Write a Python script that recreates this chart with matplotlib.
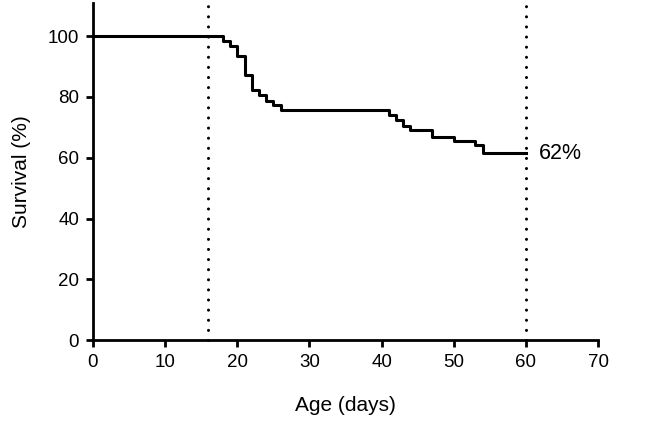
import matplotlib.pyplot as plt

plt.rcParams['font.family'] = ['Liberation Sans', 'DejaVu Sans']

# Kaplan-Meier style steps
days = [0, 18, 19, 20, 21, 22, 23, 24, 25, 26, 41, 42, 43, 44, 47, 50, 53, 54, 60]
survival = [100, 98.4, 96.8, 93.6, 87.3, 82.3, 80.7, 78.5, 77.2, 75.8,
            74.2, 72.4, 70.6, 69.2, 66.9, 65.5, 64.2, 61.5, 61.5]
marks = [16, 60]
final_label = "62%"

fig = plt.figure(figsize=(6.69, 4.47), dpi=100)
ax = fig.add_axes([0.139, 0.239, 0.755, 0.755])

ax.step(days, survival, where='post', color='black', lw=2.2)
for m in marks:
    ax.plot([m, m], [0, 111], color='black', lw=2.2, linestyle=(0, (0.01, 3.3)),
            dash_capstyle='round', clip_on=False)

ax.text(days[-1] + 1.8, survival[-1], final_label, fontsize=15.5, va='center', ha='left')

ax.set_xlim(0, 70)
ax.set_ylim(0, 111)
ax.set_xticks(range(0, 71, 10))
ax.set_yticks(range(0, 101, 20))
for s in ['top', 'right']:
    ax.spines[s].set_visible(False)
for s in ['left', 'bottom']:
    ax.spines[s].set_linewidth(2)
ax.tick_params(width=2, length=5, labelsize=13.5, direction='out', pad=5)
ax.set_xlabel('Age (days)', fontsize=15, labelpad=18)
ax.set_ylabel('Survival (%)', fontsize=15, labelpad=12)

fig.savefig('out.png', dpi=100)
